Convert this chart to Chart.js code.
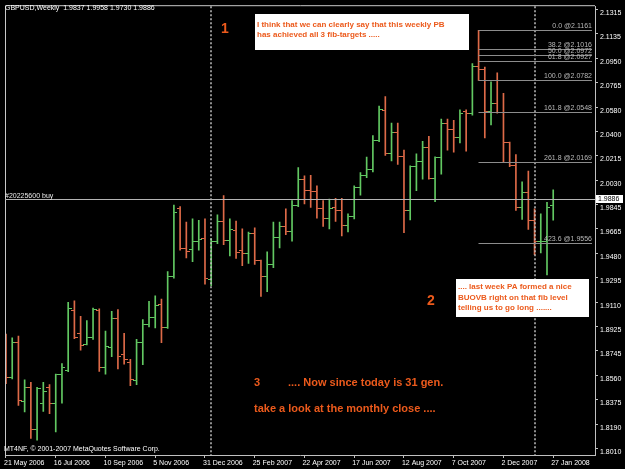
<!DOCTYPE html>
<html>
<head>
<meta charset="utf-8">
<script src="https://cdn.jsdelivr.net/npm/chart.js@4.4.1/dist/chart.umd.min.js"></script>
<style>
  html, body { margin: 0; padding: 0; background: #000; overflow: hidden; }
</style>
</head>
<body>
<canvas id="chart" width="625" height="469"></canvas>
<script>
// weekly GBPUSD bars, 21 May 2006 .. 27 Jan 2008
const opens = [1.8818,1.8544,1.8805,1.8363,1.8469,1.8151,1.8350,1.8465,1.8345,1.8569,
  1.8594,1.9047,1.8873,1.8793,1.8848,1.9047,1.8619,1.8773,1.8988,1.8719,
  1.8656,1.8519,1.8805,1.8943,1.8992,1.9097,1.8917,1.9303,1.9814,1.9515,
  1.9510,1.9565,1.9590,1.9279,1.9565,1.9719,1.9578,1.9652,1.9500,1.9480,
  1.9627,1.9423,1.9303,1.9395,1.9602,1.9684,1.9640,1.9843,2.0038,1.9951,
  1.9943,1.9819,1.9744,1.9825,1.9800,1.9690,1.9759,1.9976,2.0067,2.0108,
  2.0332,2.0556,2.0230,2.0392,2.0212,1.9802,2.0132,2.0168,2.0280,2.0043,
  2.0200,2.0461,2.0416,2.0349,2.0550,2.0530,2.0889,2.0864,2.0548,2.0610,
  2.0541,2.0312,2.0142,1.9826,1.9938,1.9727,1.9565,1.9565,1.9837];
const highs = [1.8870,1.8843,1.8855,1.8525,1.8507,1.8469,1.8507,1.8489,1.8569,1.8649,
  1.9109,1.9122,1.9005,1.8973,1.9067,1.9061,1.8893,1.9042,1.9055,1.8876,
  1.8681,1.8831,1.8980,1.9117,1.9159,1.9134,1.9341,1.9843,1.9831,1.9714,
  1.9739,1.9727,1.9739,1.9590,1.9769,1.9914,1.9739,1.9722,1.9664,1.9640,
  1.9672,1.9428,1.9490,1.9714,1.9714,1.9814,1.9876,2.0125,2.0063,2.0067,
  1.9988,1.9876,1.9888,1.9893,1.9893,1.9776,1.9988,2.0088,2.0205,2.0366,
  2.0590,2.0660,2.0461,2.0461,2.0257,2.0138,2.0230,2.0324,2.0362,2.0207,
  2.0491,2.0491,2.0481,2.0560,2.0560,2.0909,2.1161,2.0884,2.0772,2.0840,
  2.0685,2.0317,2.0224,2.0018,2.0100,1.9814,1.9776,1.9864,1.9958];
const lows = [1.8497,1.8532,1.8333,1.8283,1.8084,1.8071,1.8288,1.8271,1.8133,1.8350,
  1.8587,1.8835,1.8749,1.8788,1.8831,1.8589,1.8569,1.8701,1.8607,1.8644,
  1.8482,1.8489,1.8639,1.8925,1.8917,1.8805,1.8913,1.9291,1.9503,1.9445,
  1.9416,1.9503,1.9246,1.9236,1.9552,1.9545,1.9460,1.9440,1.9386,1.9403,
  1.9395,1.9154,1.9191,1.9371,1.9520,1.9619,1.9570,1.9830,1.9851,1.9826,
  1.9744,1.9682,1.9664,1.9719,1.9610,1.9640,1.9739,1.9918,2.0050,2.0093,
  2.0320,2.0217,2.0175,2.0150,1.9634,1.9731,1.9951,2.0038,2.0038,1.9869,
  2.0075,2.0257,2.0242,2.0312,2.0250,2.0520,2.0782,2.0349,2.0448,2.0536,
  2.0168,2.0132,1.9802,1.9734,1.9660,1.9470,1.9483,1.9316,1.9730];
const closes = [1.8544,1.8805,1.8370,1.8469,1.8151,1.8457,1.8439,1.8345,1.8564,1.8619,
  1.9062,1.8843,1.8788,1.8848,1.9055,1.8619,1.8776,1.8988,1.8701,1.8681,
  1.8525,1.8805,1.8943,1.8992,1.9087,1.8917,1.9303,1.9784,1.9515,1.9490,
  1.9565,1.9585,1.9286,1.9565,1.9719,1.9578,1.9657,1.9485,1.9480,1.9627,
  1.9423,1.9303,1.9395,1.9602,1.9684,1.9640,1.9843,2.0038,1.9951,1.9943,
  1.9819,1.9739,1.9819,1.9800,1.9690,1.9759,1.9976,2.0067,2.0108,2.0332,
  2.0560,2.0232,2.0392,2.0212,1.9802,2.0132,2.0168,2.0280,2.0043,2.0200,
  2.0461,2.0416,2.0349,2.0536,2.0530,2.0889,2.0864,2.0548,2.0610,2.0541,
  2.0312,2.0142,1.9826,1.9938,1.9727,1.9565,1.9570,1.9826,1.9886];

const xTickWeeks = [0, 8, 16, 24, 32, 40, 48, 56, 64, 72, 80, 88];
const xTickLabels = ['21 May 2006', '16 Jul 2006', '10 Sep 2006', '5 Nov 2006', '31 Dec 2006', '25 Feb 2007',
  '22 Apr 2007', '17 Jun 2007', '12 Aug 2007', '7 Oct 2007', '2 Dec 2007', '27 Jan 2008'];
const yTickValues = [1.8010, 1.8190, 1.8375, 1.8560, 1.8745, 1.8925, 1.9110, 1.9295, 1.9480, 1.9665,
  1.9845, 2.0030, 2.0215, 2.0400, 2.0580, 2.0765, 2.0950, 2.1135, 2.1315];

const fibLevels = ['0.0', '38.2', '50.0', '61.8', '100.0', '161.8', '261.8', '423.6'];
const fibPrices = [2.1161, 2.1016, 2.0972, 2.0927, 2.0782, 2.0548, 2.0169, 1.9556];
const fibStartWeek = 76;
const separatorWeeks = [33, 85];
const bidPrice = 1.9886;

const UP = '#62c862';
const DOWN = '#de6a48';
const FONT = '"Liberation Sans", Arial, sans-serif';
const ORANGE = '#ec5a1c';

function tickImage(color, side) {
  const c = document.createElement('canvas');
  c.width = 7; c.height = 1;
  const g = c.getContext('2d');
  g.fillStyle = color;
  g.fillRect(side === 'left' ? 0 : 4, 0, 3, 1);
  return c;
}
const openUp = tickImage(UP, 'left'), openDown = tickImage(DOWN, 'left');
const closeUp = tickImage(UP, 'right'), closeDown = tickImage(DOWN, 'right');
const isUp = i => closes[i] >= opens[i];

const overlay = {
  id: 'overlay',
  beforeDraw(chart) {
    const ctx = chart.ctx;
    ctx.save();
    ctx.fillStyle = '#000';
    ctx.fillRect(0, 0, chart.width, chart.height);
    ctx.restore();
  },
  afterDraw(chart) {
    const ctx = chart.ctx, a = chart.chartArea;
    const x = chart.scales.x, y = chart.scales.y;
    ctx.save();

    // frame
    ctx.strokeStyle = '#c8c8c8';
    ctx.lineWidth = 1;
    ctx.beginPath();
    ctx.moveTo(a.left + 0.5, a.bottom);
    ctx.lineTo(a.left + 0.5, a.top - 0.5);
    ctx.lineTo(a.right, a.top - 0.5);
    ctx.stroke();

    // period separators
    ctx.strokeStyle = '#c0c0c0';
    ctx.lineWidth = 1.5;
    ctx.setLineDash([2, 2]);
    separatorWeeks.forEach(w => {
      const px = Math.round(x.getPixelForValue(w));
      ctx.beginPath();
      ctx.moveTo(px, a.top);
      ctx.lineTo(px, a.bottom);
      ctx.stroke();
    });
    ctx.setLineDash([]);

    // fibo levels
    const fx0 = Math.round(x.getPixelForValue(fibStartWeek)) - 0.5;
    const fx1 = a.right - 3;
    ctx.font = '7px ' + FONT;
    ctx.textAlign = 'right';
    ctx.textBaseline = 'bottom';
    fibPrices.forEach((p, i) => {
      const py = Math.round(y.getPixelForValue(p)) + 0.5;
      ctx.strokeStyle = '#8c8c8c';
      ctx.lineWidth = 1;
      ctx.beginPath();
      ctx.moveTo(fx0, py);
      ctx.lineTo(fx1, py);
      ctx.stroke();
      ctx.fillStyle = '#b8b8b8';
      ctx.fillText(fibLevels[i] + ' @' + p.toFixed(4), fx1, py - 1);
    });

    // bid / order line
    const by = Math.round(y.getPixelForValue(bidPrice)) + 0.5;
    ctx.strokeStyle = '#b4b4b4';
    ctx.beginPath();
    ctx.moveTo(a.left, by);
    ctx.lineTo(a.right, by);
    ctx.stroke();
    ctx.fillStyle = '#e8e8e8';
    ctx.textAlign = 'left';
    ctx.textBaseline = 'bottom';
    ctx.fillText('#20225600 buy', 5, by);

    // price box on the axis
    ctx.fillStyle = '#ffffff';
    ctx.fillRect(a.right + 1, by - 4.5, 27, 8);
    ctx.fillStyle = '#000';
    ctx.textBaseline = 'middle';
    ctx.fillText(bidPrice.toFixed(4), a.right + 3, by);

    // header and copyright
    ctx.fillStyle = '#ffffff';
    ctx.fillText('GBPUSD,Weekly  1.9837 1.9958 1.9730 1.9886', 5, 8);
    ctx.fillText('MT4NF, \u00a9 2001-2007 MetaQuotes Software Corp.', 4, 449);

    // comment boxes
    ctx.fillStyle = '#ffffff';
    ctx.fillRect(255, 14, 214, 36);
    ctx.fillRect(456, 279, 133, 38);
    ctx.fillStyle = ORANGE;
    ctx.font = 'bold 8px ' + FONT;
    ctx.fillText('I think that we can clearly say that this weekly PB', 257, 25);
    ctx.fillText('has achieved all 3 fib-targets .....', 257, 35);
    ctx.fillText('.... last week PA formed a nice', 458, 287);
    ctx.fillText('BUOVB right on that fib level', 458, 297.5);
    ctx.fillText('telling us to go long .......', 458, 308);

    ctx.font = 'bold 14px ' + FONT;
    ctx.fillText('1', 221, 29);
    ctx.fillText('2', 427, 301);
    ctx.font = 'bold 11px ' + FONT;
    ctx.fillText('3', 254, 383);
    ctx.fillText('.... Now since today is 31 gen.', 288, 383);
    ctx.fillText('take a look at the monthly close ....', 254, 409);

    ctx.restore();
  }
};

const idx = opens.map((_, i) => i);

new Chart(document.getElementById('chart'), {
  type: 'bar',
  data: {
    datasets: [
      {
        type: 'bar',
        data: idx.map(i => ({ x: i, y: [lows[i], highs[i]] })),
        backgroundColor: idx.map(i => isUp(i) ? UP : DOWN),
        barThickness: 1,
        grouped: false,
        order: 2
      },
      {
        type: 'line',
        data: idx.map(i => ({ x: i, y: opens[i] })),
        showLine: false,
        pointRadius: 2,
        pointStyle: idx.map(i => isUp(i) ? openUp : openDown),
        order: 1
      },
      {
        type: 'line',
        data: idx.map(i => ({ x: i, y: closes[i] })),
        showLine: false,
        pointRadius: 2,
        pointStyle: idx.map(i => isUp(i) ? closeUp : closeDown),
        order: 1
      }
    ]
  },
  options: {
    responsive: false,
    animation: false,
    devicePixelRatio: 1,
    layout: { padding: { left: 2, top: 2, right: 0, bottom: 0 } },
    plugins: {
      legend: { display: false },
      tooltip: { enabled: false }
    },
    scales: {
      x: {
        type: 'linear',
        offset: false,
        min: -0.16,
        max: 94.72,
        afterFit: s => { s.height = 14; },
        afterBuildTicks: s => { s.ticks = xTickWeeks.map(v => ({ value: v })); },
        ticks: {
          callback: (v, i) => xTickLabels[i],
          color: '#ffffff',
          font: { family: FONT, size: 7 },
          align: 'start',
          labelOffset: -2,
          maxRotation: 0,
          autoSkip: false,
          padding: 1
        },
        grid: { offset: false, drawOnChartArea: false, tickLength: 3, color: '#c0c0c0' },
        border: { color: '#c0c0c0' }
      },
      y: {
        position: 'right',
        min: 1.7959,
        max: 2.1342,
        afterFit: s => { s.width = 30; },
        afterBuildTicks: s => { s.ticks = yTickValues.map(v => ({ value: v })); },
        ticks: {
          callback: v => v.toFixed(4),
          color: '#ffffff',
          font: { family: FONT, size: 7 },
          padding: 2,
          labelOffset: 3.5
        },
        grid: { drawOnChartArea: false, tickLength: 3, color: '#c0c0c0' },
        border: { color: '#c0c0c0' }
      }
    }
  },
  plugins: [overlay]
});
</script>
</body>
</html>
